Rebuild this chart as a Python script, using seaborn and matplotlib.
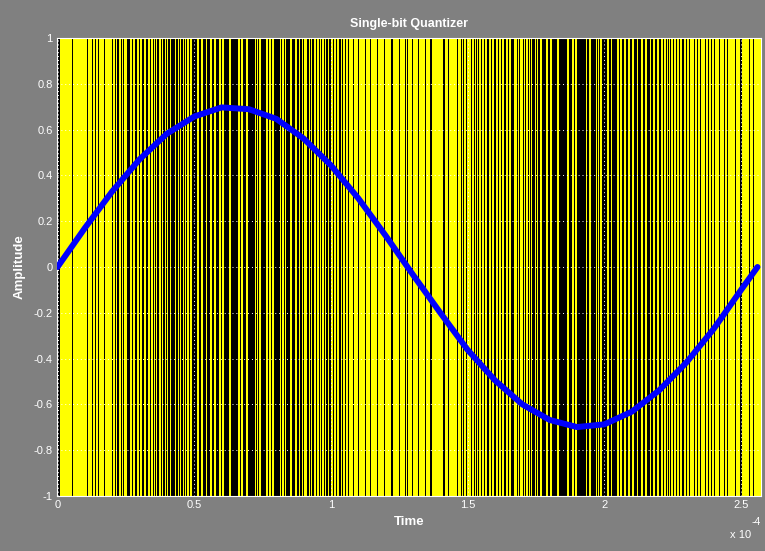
import numpy as np
import pandas as pd
import matplotlib
matplotlib.use("Agg")
import matplotlib.pyplot as plt
import seaborn as sns

# ---- data ----
# quantizer output: positive half = runs of +1 separated by a single -1 sample,
# negative half = runs of -1 separated by a single +1 sample (run lengths in samples)
pos_half_runs = [
    2, 1, 1, 1, 1, 1, 2, 1, 1, 1, 1, 1, 1, 2, 1, 2, 2, 2, 1, 2, 1, 1, 1,
    2, 2, 3, 2, 2, 3, 2, 3, 2, 3, 3, 2, 3, 3, 2, 3, 3,
    4, 3, 4, 3, 2, 6, 3, 3, 4, 3, 4, 2, 6,
    8, 2, 4, 8, 2, 6, 2, 2, 8, 2, 5,
    4, 3, 3, 2, 3, 3, 3, 2, 2, 3, 3, 2, 2, 2, 2, 2, 2,
    1, 2, 1, 2, 1, 1, 2, 1, 2, 1, 1, 2, 1, 1, 2, 1, 1, 2, 1, 1, 1, 1, 1, 1, 1,
]
neg_half_runs = [
    1, 1, 2, 1, 1, 1, 1, 1, 2, 1, 2, 1, 1, 1, 1, 1, 2, 1, 2, 1, 1, 1, 1, 1, 2, 1, 2, 1,
    2, 2, 3, 2, 2, 3, 2, 3, 2, 2, 3, 2, 3, 2, 2, 2, 2, 3,
    5, 3, 5, 3, 6, 10, 3, 3, 9, 3,
    6, 3, 6, 2, 6, 2, 3, 3, 3, 3, 4, 3, 3,
    3, 3, 3, 2, 2, 3, 2, 2, 2, 3, 2, 2, 1, 2, 2, 2, 1, 2, 2,
    2, 2, 1, 2, 1, 2, 1, 1, 1, 1, 2, 1, 2, 1, 1, 1, 2, 1, 1, 1, 1, 1,
]
sample_period = 2.56e-4 / 700

# input sine (Time in units of 1e-4 s, amplitude)
sine_time = [0.0, 0.1, 0.2, 0.3, 0.4, 0.5, 0.6, 0.7, 0.8, 0.9, 1.0, 1.1, 1.2, 1.3,
             1.4, 1.5, 1.6, 1.7, 1.8, 1.9, 2.0, 2.1, 2.2, 2.3, 2.4, 2.5, 2.56]
sine_amp = [0.0, 0.17, 0.33, 0.47, 0.582, 0.657, 0.697, 0.689, 0.647, 0.561, 0.444,
            0.30, 0.137, -0.034, -0.20, -0.362, -0.495, -0.60, -0.668, -0.699,
            -0.687, -0.632, -0.539, -0.417, -0.27, -0.10, 0.0]

xtick_vals = [0.0, 0.5, 1.0, 1.5, 2.0, 2.5]
xtick_labels = ["0", "0.5", "1", "1.5", "2", "2.5"]
ytick_vals = [-1, -0.8, -0.6, -0.4, -0.2, 0, 0.2, 0.4, 0.6, 0.8, 1]
ytick_labels = ["-1", "-0.8", "-0.6", "-0.4", "-0.2", "0", "0.2", "0.4", "0.6", "0.8", "1"]

# ---- build tables ----
bits = []
for r in pos_half_runs:
    bits += [1] * r + [-1]
for r in neg_half_runs:
    bits += [-1] * r + [1]
q_df = pd.DataFrame({"t": np.arange(len(bits)) * sample_period, "q": bits})
s_df = pd.DataFrame({"t": np.array(sine_time) * 1e-4, "y": sine_amp})

# ---- plot ----
sns.set_style("dark")
plt.rcParams["font.family"] = ["Liberation Sans", "DejaVu Sans"]
BG = "#808080"

fig = plt.figure(figsize=(7.65, 5.51), dpi=100, facecolor=BG)
ax = fig.add_axes([57 / 765, 1 - 496 / 551, 704 / 765, 458 / 551])
ax.set_facecolor("black")

sns.lineplot(data=q_df, x="t", y="q", ax=ax, color="#ffff00", linewidth=0.72,
             drawstyle="steps-post", estimator=None, sort=False, snap=True)
sns.lineplot(data=s_df, x="t", y="y", ax=ax, color="#0000ff", linewidth=4.3,
             estimator=None, sort=False, zorder=5)

# one sample per pixel column, samples centred on pixel columns
ax.set_xlim(-0.5 * sample_period, 703.5 * sample_period)
ax.set_ylim(-1, 1)
ax.set_xticks(np.array(xtick_vals) * 1e-4)
ax.set_xticklabels(xtick_labels)
ax.set_yticks(ytick_vals)
ax.set_yticklabels(ytick_labels)
ax.tick_params(colors="white", labelsize=8, direction="in", length=3, pad=3)
ax.set_xlabel("")
ax.set_ylabel("")
ax.grid(True, color="white", linestyle=(0, (1, 3)), linewidth=0.7)
ax.set_axisbelow(False)
for sp in ax.spines.values():
    sp.set_visible(True)
    sp.set_color("white")
    sp.set_linewidth(0.8)

fig.text(409 / 765, 1 - 24 / 551, "Single-bit Quantizer", color="white",
         fontsize=9, fontweight="bold", ha="center", va="center")
fig.text(409 / 765, 1 - 522 / 551, "Time", color="white",
         fontsize=9.5, fontweight="bold", ha="center", va="center")
fig.text(20 / 765, 1 - 267 / 551, "Amplitude", color="white", rotation=90,
         fontsize=9.5, fontweight="bold", ha="center", va="center")
fig.text(741 / 765, 1 - 535 / 551, "x 10", color="white", fontsize=8,
         ha="center", va="center")
fig.text(756 / 765, 1 - 522 / 551, "-4", color="white", fontsize=7.5,
         ha="center", va="center")

fig.savefig("out.png", dpi=100, facecolor=BG)
